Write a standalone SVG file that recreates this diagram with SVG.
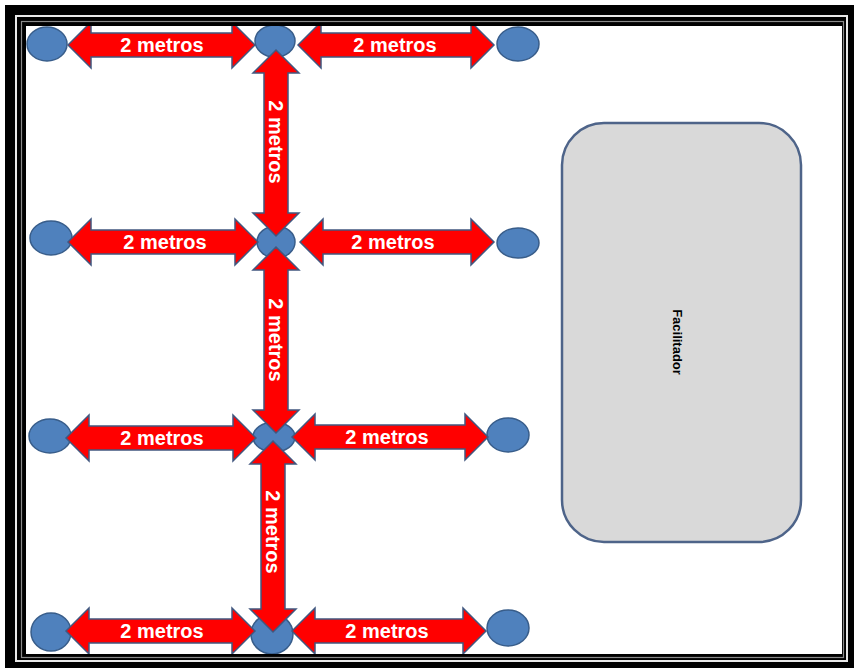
<svg xmlns="http://www.w3.org/2000/svg" width="854" height="668" viewBox="0 0 854 668">
<style>
.dot{fill:#4F81BD;stroke:#385D8A;stroke-width:1.5}
.arr{fill:#FF0000;stroke:#41577F;stroke-width:1.5;stroke-linejoin:miter}
.lbl{font-family:"Liberation Sans",Arial,sans-serif;font-weight:bold;font-size:20px;fill:#FFFFFF;text-anchor:middle}
.fac{font-family:"Liberation Sans",Arial,sans-serif;font-weight:bold;font-size:13px;fill:#000000;text-anchor:middle}
</style>
<rect x="0" y="0" width="854" height="668" fill="#FFFFFF"/>
<g id="nodes">
<g id="n-r1-left"><ellipse class="dot" cx="47" cy="44" rx="20" ry="17"/></g>
<g id="n-r1-mid"><ellipse class="dot" cx="275" cy="41" rx="20" ry="16"/></g>
<g id="n-r1-right"><ellipse class="dot" cx="518" cy="44" rx="21" ry="17"/></g>
<g id="n-r2-left"><ellipse class="dot" cx="51" cy="238" rx="21" ry="17"/></g>
<g id="n-r2-mid"><ellipse class="dot" cx="276" cy="242" rx="19" ry="16"/></g>
<g id="n-r2-right"><ellipse class="dot" cx="518" cy="243" rx="21" ry="15"/></g>
<g id="n-r3-left"><ellipse class="dot" cx="50" cy="436" rx="21" ry="17"/></g>
<g id="n-r3-mid"><ellipse class="dot" cx="274" cy="437" rx="21" ry="15"/></g>
<g id="n-r3-right"><ellipse class="dot" cx="508" cy="435" rx="21" ry="17"/></g>
<g id="n-r4-left"><ellipse class="dot" cx="51" cy="632" rx="20" ry="19"/></g>
<g id="n-r4-mid"><ellipse class="dot" cx="272" cy="634" rx="21" ry="20"/></g>
<g id="n-r4-right"><ellipse class="dot" cx="508" cy="628" rx="21" ry="18"/></g>
<g id="facilitador">
<rect x="562" y="123" width="239" height="419" rx="42" ry="42" fill="#D9D9D9" stroke="#4E6489" stroke-width="2.5"/>
<text class="fac" transform="translate(678,342) rotate(90)" dy="5">Facilitador</text>
</g>
</g>
<g id="connectors">
<path class="arr" d="M68,45 L91,22 L91,33 L232,33 L232,22 L255,45 L232,68 L232,57 L91,57 L91,68 Z"/>
<path class="arr" d="M298,45 L321,22 L321,33 L471,33 L471,22 L494,45 L471,68 L471,57 L321,57 L321,68 Z"/>
<path class="arr" d="M68,242 L91,219 L91,230 L235,230 L235,219 L258,242 L235,265 L235,254 L91,254 L91,265 Z"/>
<path class="arr" d="M300,242 L323,219 L323,230 L471,230 L471,219 L494,242 L471,265 L471,254 L323,254 L323,265 Z"/>
<path class="arr" d="M66,438 L89,415 L89,426 L233,426 L233,415 L256,438 L233,461 L233,450 L89,450 L89,461 Z"/>
<path class="arr" d="M292,437 L315,414 L315,425 L465,425 L465,414 L488,437 L465,460 L465,449 L315,449 L315,460 Z"/>
<path class="arr" d="M66,631 L89,608 L89,619 L232,619 L232,608 L255,631 L232,654 L232,643 L89,643 L89,654 Z"/>
<path class="arr" d="M292,631 L315,608 L315,619 L463,619 L463,608 L486,631 L463,654 L463,643 L315,643 L315,654 Z"/>
<path class="arr" d="M276,50 L299,73 L288,73 L288,213 L299,213 L276,236 L253,213 L264,213 L264,73 L253,73 Z"/>
<path class="arr" d="M276,247 L299,270 L288,270 L288,410 L299,410 L276,433 L253,410 L264,410 L264,270 L253,270 Z"/>
<path class="arr" d="M273,441 L296,464 L285,464 L285,609 L296,609 L273,632 L250,609 L261,609 L261,464 L250,464 Z"/>
<text class="lbl" x="162" y="52">2 metros</text>
<text class="lbl" x="395" y="52">2 metros</text>
<text class="lbl" x="165" y="249">2 metros</text>
<text class="lbl" x="393" y="249">2 metros</text>
<text class="lbl" x="162" y="445">2 metros</text>
<text class="lbl" x="387" y="444">2 metros</text>
<text class="lbl" x="162" y="638">2 metros</text>
<text class="lbl" x="387" y="638">2 metros</text>
<text class="lbl" transform="translate(276,142) rotate(90)" dy="7">2 metros</text>
<text class="lbl" transform="translate(276,340) rotate(90)" dy="7">2 metros</text>
<text class="lbl" transform="translate(273,532) rotate(90)" dy="7">2 metros</text>
</g>
<g id="frame">
<path fill="#000000" fill-rule="evenodd" d="M5,5 H854 V668 H5 Z M26,26 V654 H842 V26 Z"/>
<rect x="16" y="16" width="831" height="645" fill="none" stroke="#E8E8E8" stroke-width="2"/>
<rect x="21.5" y="21.5" width="822" height="636" fill="none" stroke="#8A8A8A" stroke-width="1.2"/>
</g>
</svg>
